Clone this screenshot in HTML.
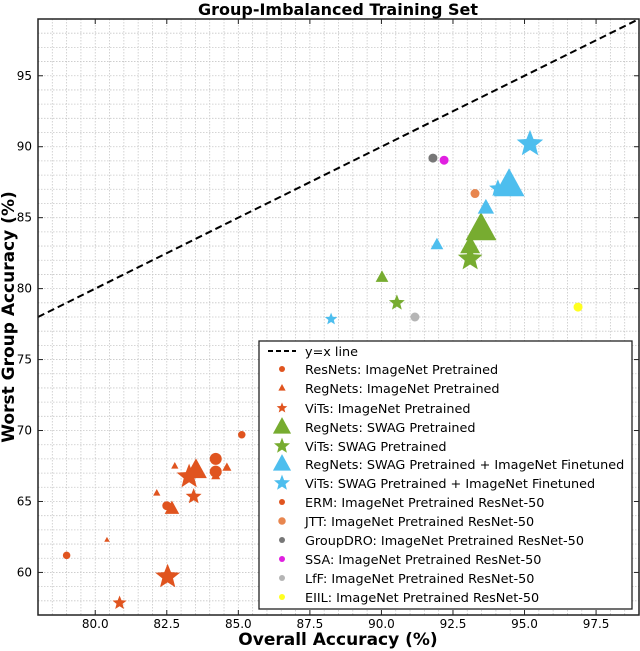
<!DOCTYPE html>
<html><head><meta charset="utf-8"><style>
body{margin:0;background:#fff;}
svg{display:block;font-family:"DejaVu Sans","Liberation Sans",sans-serif;}
</style></head><body>
<svg id="chart" width="640" height="651" viewBox="0 0 640 651" xmlns="http://www.w3.org/2000/svg">
<text x="338" y="15" text-anchor="middle" font-size="16" font-weight="bold">Group-Imbalanced Training Set</text>
<text x="338" y="645" text-anchor="middle" font-size="17" font-weight="bold">Overall Accuracy (%)</text>
<text transform="translate(14,317) rotate(-90)" text-anchor="middle" font-size="17" font-weight="bold">Worst Group Accuracy (%)</text>
<g id="grid"></g><g id="marks"></g><g id="axes"></g><g id="legend"></g>
</svg>
<script>
const seriesNames = ["ResNets: ImageNet Pretrained","RegNets: ImageNet Pretrained","ViTs: ImageNet Pretrained","RegNets: SWAG Pretrained","ViTs: SWAG Pretrained","RegNets: SWAG Pretrained + ImageNet Finetuned","ViTs: SWAG Pretrained + ImageNet Finetuned","ERM: ImageNet Pretrained ResNet-50","JTT: ImageNet Pretrained ResNet-50","GroupDRO: ImageNet Pretrained ResNet-50","SSA: ImageNet Pretrained ResNet-50","LfF: ImageNet Pretrained ResNet-50","EIIL: ImageNet Pretrained ResNet-50"];
const seriesColors = ["#e0541f","#e0541f","#e0541f","#77ac30","#77ac30","#4dbeee","#4dbeee","#e0541f","#e8864f","#777777","#e020e0","#b5b5b5","#ffff20"];
const seriesShapes = ["circle","tri","star","tri","star","tri","star","circle","circle","circle","circle","circle","circle"];
const seriesX = [
 [79.0,82.5,84.21,84.21,85.12],
 [80.41,82.15,82.78,83.52,84.6,82.68,84.21],
 [80.85,82.53,83.28,83.44],
 [90.02,93.1,93.48],
 [90.54,93.1],
 [91.94,93.65,94.46],
 [88.24,94.07,95.19],
 [],
 [93.27],[91.8],[92.19],[91.17],[96.87]];
const seriesY = [
 [61.2,64.7,68.0,67.1,69.7],
 [62.3,65.6,67.5,67.2,67.4,64.5,66.8],
 [57.85,59.7,66.75,65.35],
 [80.8,83.0,84.2],
 [79.0,82.1],
 [83.1,85.7,87.3],
 [77.85,87.05,90.2],
 [],
 [86.7],[89.2],[89.05],[78.0],[78.7]];
const seriesSizes = [
 [5,6,8,8,5],
 [3,4,4,12,5,8,5],
 [8,14,14,9],
 [7,11,17],
 [9,14],
 [7,9,17],
 [7,10,15],
 [],
 [6],[6],[6],[6],[6]];
const xTicks = [80,82.5,85,87.5,90,92.5,95,97.5];
const yTicks = [60,65,70,75,80,85,90,95];
const diagLine = [78,99];

const L=38,R=639,T=19,B=615,X0=78,X1=99,Y0=57,Y1=99;
const sx=v=>L+(v-X0)/(X1-X0)*(R-L);
const sy=v=>B-(v-Y0)/(Y1-Y0)*(B-T);
const NS="http://www.w3.org/2000/svg";
function mk(tag,attrs,parent){const e=document.createElementNS(NS,tag);for(const k in attrs)e.setAttribute(k,attrs[k]);parent.appendChild(e);return e;}
const grid=document.getElementById('grid'),marks=document.getElementById('marks'),axes=document.getElementById('axes'),leg=document.getElementById('legend');
for(let v=78.5;v<99;v+=0.5){const l=mk('line',{x1:sx(v),x2:sx(v),y1:T,y2:B,stroke:'#c8c8c8','stroke-width':0.8,'stroke-dasharray':'1.5,1.5'},grid);

}
for(let v=58;v<99;v+=1){const l=mk('line',{x1:L,x2:R,y1:sy(v),y2:sy(v),stroke:'#c8c8c8','stroke-width':0.8,'stroke-dasharray':'1.5,1.5'},grid);

}
const d=mk('line',{x1:sx(diagLine[0]),y1:sy(diagLine[0]),x2:sx(diagLine[1]),y2:sy(diagLine[1]),stroke:'#000','stroke-width':2,'stroke-dasharray':'7,4'},marks);


function shape(kind,cx,cy,s,color,parent){
 if(kind==='circle')return mk('circle',{cx:cx,cy:cy,r:s*0.5,fill:color},parent);
 if(kind==='tri'){const h=s*1.1;return mk('polygon',{points:`${cx},${cy-h*0.6} ${cx-h*0.55},${cy+h*0.4} ${cx+h*0.55},${cy+h*0.4}`,fill:color},parent);}
 let p=[];for(let i=0;i<10;i++){const r=i%2?s*0.27:s*0.62;const a=-Math.PI/2+i*Math.PI/5;p.push((cx+r*Math.cos(a)).toFixed(1)+','+(cy+r*Math.sin(a)).toFixed(1));}
 return mk('polygon',{points:p.join(' '),fill:color},parent);
}
seriesNames.forEach((n,si)=>{
 seriesX[si].forEach((xv,j)=>{
  const e=shape(seriesShapes[si],sx(xv),sy(seriesY[si][j]),seriesSizes[si][j]*1.5,seriesColors[si],marks);
  
  
 });
});
const fr=mk('rect',{x:L,y:T,width:R-L,height:B-T,fill:'none',stroke:'#222','stroke-width':1.5},axes);


xTicks.forEach(v=>{
 mk('line',{x1:sx(v),x2:sx(v),y1:B,y2:B-5,stroke:'#222'},axes);mk('line',{x1:sx(v),x2:sx(v),y1:T,y2:T+5,stroke:'#222'},axes);
 const t=mk('text',{x:sx(v),y:B+13,'text-anchor':'middle','font-size':12},axes);t.textContent=v.toFixed(1);
 
 
});
yTicks.forEach(v=>{
 mk('line',{x1:L,x2:L+5,y1:sy(v),y2:sy(v),stroke:'#222'},axes);mk('line',{x1:R,x2:R-5,y1:sy(v),y2:sy(v),stroke:'#222'},axes);
 const t=mk('text',{x:L-6,y:sy(v)+4,'text-anchor':'end','font-size':12},axes);t.textContent=v;
 
 
});
const lb=mk('rect',{x:259,y:341,width:373,height:268,fill:'#fff',stroke:'#222','stroke-width':1.3},leg);


const legY=[351,369,388,408,427,446,464,483,502,521,540,559,578,597];
const ld=mk('line',{x1:268,x2:296,y1:351,y2:351,stroke:'#000','stroke-width':2,'stroke-dasharray':'5,3'},leg);


const lt0=mk('text',{x:305,y:356,'font-size':12.8},leg);lt0.textContent='y=x line';


const legSize=[4,4,6,10,9,10,9,4,5,4,4,4,4];
seriesNames.forEach((n,i)=>{
 const y=legY[i+1];
 const m=shape(seriesShapes[i],282,y,legSize[i]*1.5,seriesColors[i],leg);
 
 
 const t=mk('text',{x:305,y:y+5,'font-size':12.8},leg);t.textContent=n;
 
 
});
</script>
</body></html>
